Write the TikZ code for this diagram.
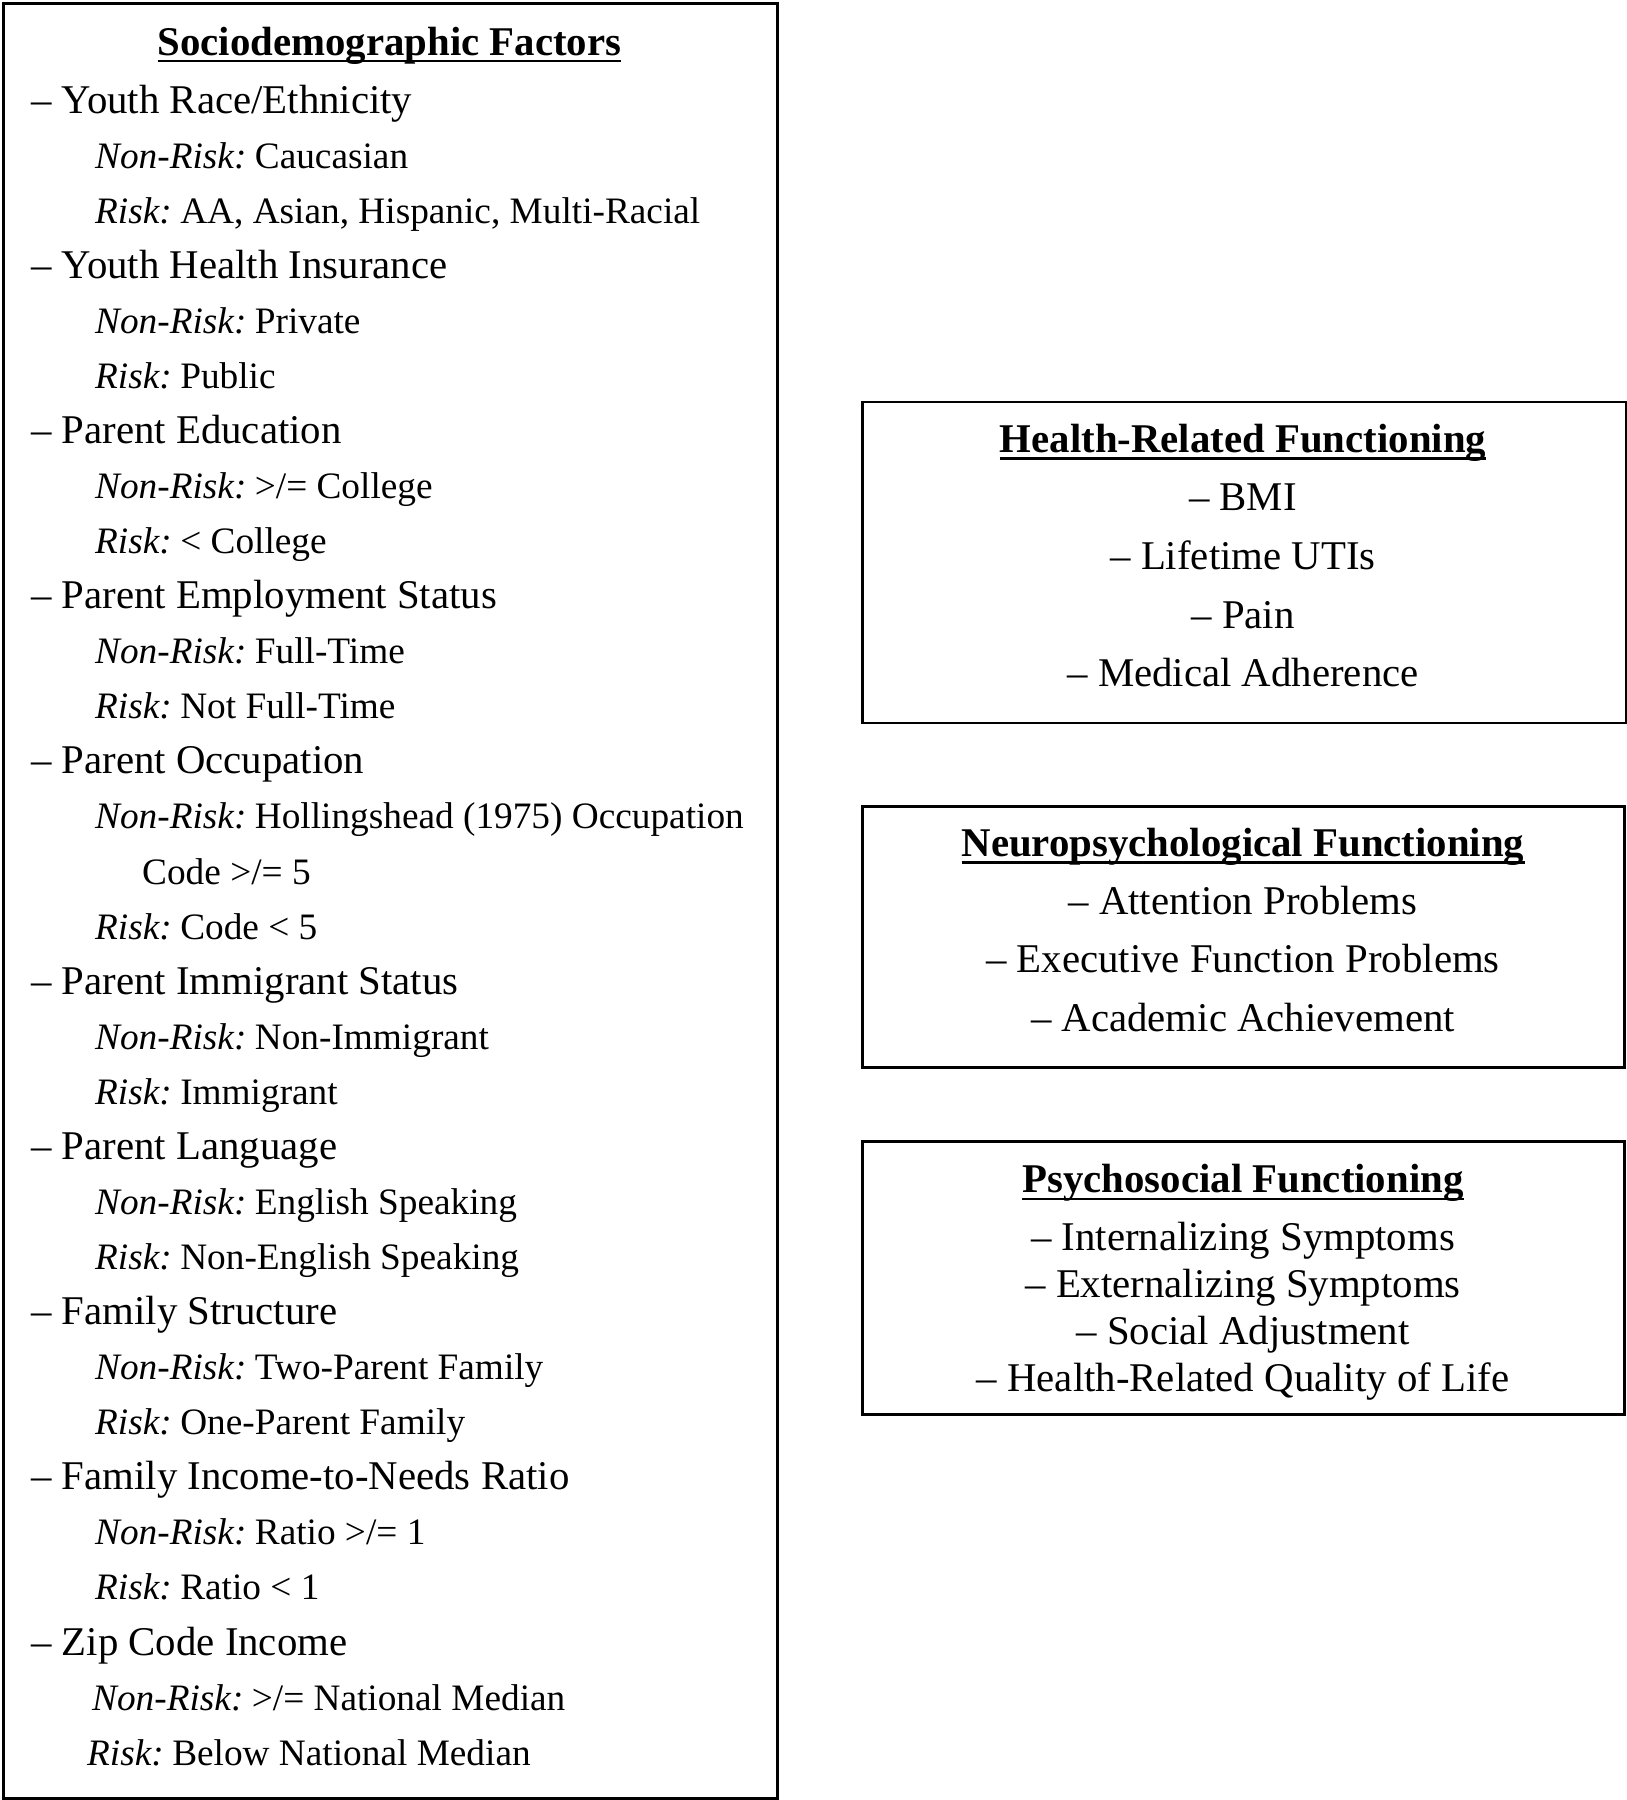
\documentclass[tikz,border=0pt]{standalone}
\usepackage{fontspec}
\setmainfont{Liberation Serif}
\newcommand\ilab[1]{{\itshape #1}\kern-4pt\relax}
\begin{document}
\begin{tikzpicture}[x=1pt,y=-1pt,
  mainitem/.style={anchor=base west, inner sep=0pt, font=\fontsize{40.8}{48}\selectfont},
  subitem/.style={anchor=base west, inner sep=0pt, font=\fontsize{37.3}{44}\selectfont},
  ctritem/.style={anchor=base, inner sep=0pt, font=\fontsize{40.8}{48}\selectfont},
  headitem/.style={anchor=base, inner sep=0pt, font=\bfseries\fontsize{40.8}{48}\selectfont},
  boxframe/.style={draw, line width=2.5pt, anchor=north west, inner sep=0pt},
  uline/.style={line width=2.8pt}]
\useasboundingbox (0,0) rectangle (1627,1800);

% boxes
\node[boxframe, minimum width=774pt, minimum height=1795pt] (L) at (2,2) {};
\node[boxframe, minimum width=763.5pt, minimum height=321pt] (H) at (861,400.5) {};
\node[boxframe, minimum width=762pt, minimum height=261pt] (N) at (861,805) {};
\node[boxframe, minimum width=762pt, minimum height=273pt] (P) at (861,1140) {};

% left box
\node[headitem] (LT) at (389.5,55) {Sociodemographic Factors};
\draw[uline] ([yshift=-6pt]LT.base west) -- ([yshift=-6pt]LT.base east);

\node[mainitem] (l1) at (31,113) {– Youth Race/Ethnicity};
\node[subitem] (l2) at (95,168.1) {\ilab{Non-Risk:} Caucasian};
\node[subitem] (l3) at (95,223.1) {\ilab{Risk:} AA, Asian, Hispanic, Multi-Racial};
\node[mainitem] (l4) at (31,278.2) {– Youth Health Insurance};
\node[subitem] (l5) at (95,333.3) {\ilab{Non-Risk:} Private};
\node[subitem] (l6) at (95,388.4) {\ilab{Risk:} Public};
\node[mainitem] (l7) at (31,443.4) {– Parent Education};
\node[subitem] (l8) at (95,498.5) {\ilab{Non-Risk:} >/= College};
\node[subitem] (l9) at (95,553.6) {\ilab{Risk:} < College};
\node[mainitem] (l10) at (31,608.6) {– Parent Employment Status};
\node[subitem] (l11) at (95,663.7) {\ilab{Non-Risk:} Full-Time};
\node[subitem] (l12) at (95,718.8) {\ilab{Risk:} Not Full-Time};
\node[mainitem] (l13) at (31,773.8) {– Parent Occupation};
\node[subitem] (l14) at (95,828.9) {\ilab{Non-Risk:} Hollingshead (1975) Occupation};
\node[subitem] (l15) at (142,884.0) {Code >/= 5};
\node[subitem] (l16) at (95,939.1) {\ilab{Risk:} Code < 5};
\node[mainitem] (l17) at (31,994.1) {– Parent Immigrant Status};
\node[subitem] (l18) at (95,1049.2) {\ilab{Non-Risk:} Non-Immigrant};
\node[subitem] (l19) at (95,1104.3) {\ilab{Risk:} Immigrant};
\node[mainitem] (l20) at (31,1159.3) {– Parent Language};
\node[subitem] (l21) at (95,1214.4) {\ilab{Non-Risk:} English Speaking};
\node[subitem] (l22) at (95,1269.5) {\ilab{Risk:} Non-English Speaking};
\node[mainitem] (l23) at (31,1324.6) {– Family Structure};
\node[subitem] (l24) at (95,1379.6) {\ilab{Non-Risk:} Two-Parent Family};
\node[subitem] (l25) at (95,1434.7) {\ilab{Risk:} One-Parent Family};
\node[mainitem] (l26) at (31,1489.8) {– Family Income-to-Needs Ratio};
\node[subitem] (l27) at (95,1544.8) {\ilab{Non-Risk:} Ratio >/= 1};
\node[subitem] (l28) at (95,1599.9) {\ilab{Risk:} Ratio < 1};
\node[mainitem] (l29) at (31,1655.0) {– Zip Code Income};
\node[subitem] (l30) at (92,1710.1) {\ilab{Non-Risk:} >/= National Median};
\node[subitem] (l31) at (87,1765.2) {\ilab{Risk:} Below National Median};

% health-related
\node[headitem] (HT) at (1243,452) {Health-Related Functioning};
\draw[uline] ([yshift=-6.5pt]HT.base west) -- ([yshift=-6.5pt]HT.base east);
\node[ctritem] (h1) at (1243,510) {– BMI};
\node[ctritem] (h2) at (1243,569) {– Lifetime UTIs};
\node[ctritem] (h3) at (1243,628) {– Pain};
\node[ctritem] (h4) at (1243,686) {– Medical Adherence};

% neuropsychological
\node[headitem] (NT) at (1243,856) {Neuropsychological Functioning};
\draw[uline] ([yshift=-6.5pt]NT.base west) -- ([yshift=-6.5pt]NT.base east);
\node[ctritem] (n1) at (1243,914) {– Attention Problems};
\node[ctritem] (n2) at (1243,972.5) {– Executive Function Problems};
\node[ctritem] (n3) at (1243,1031) {– Academic Achievement};

% psychosocial
\node[headitem] (PT) at (1243,1192.5) {Psychosocial Functioning};
\draw[uline] ([yshift=-6.5pt]PT.base west) -- ([yshift=-6.5pt]PT.base east);
\node[ctritem] (p1) at (1243,1250.3) {– Internalizing Symptoms};
\node[ctritem] (p2) at (1243,1297.4) {– Externalizing Symptoms};
\node[ctritem] (p3) at (1243,1344.4) {– Social Adjustment};
\node[ctritem] (p4) at (1243,1391.5) {– Health-Related Quality of Life};
\end{tikzpicture}
\end{document}
